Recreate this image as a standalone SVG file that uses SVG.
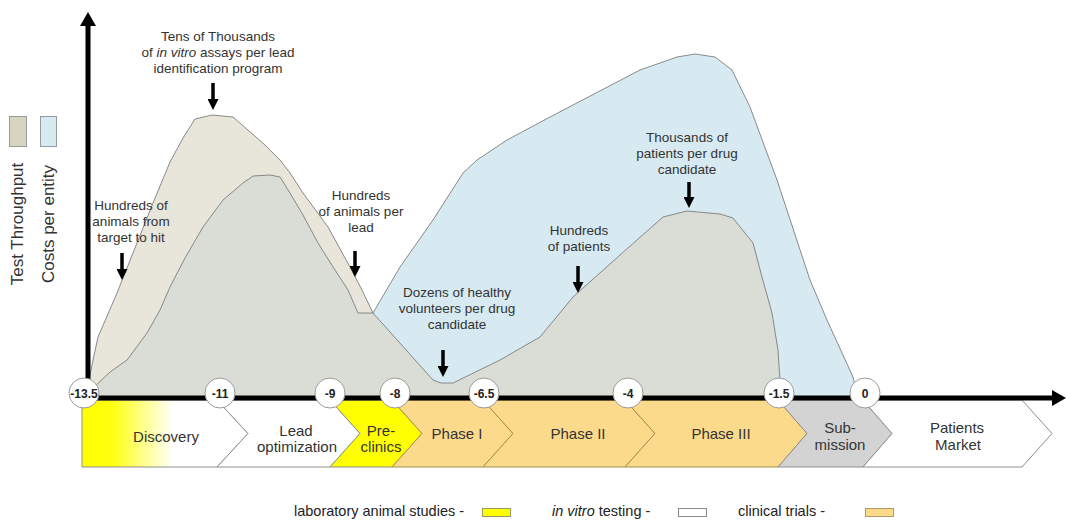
<svg xmlns="http://www.w3.org/2000/svg" width="1067" height="520" viewBox="0 0 1067 520">
<style>
.area{stroke:#7d7d7d;stroke-width:0.9;stroke-linejoin:round}
.beige{fill:#e8e6db}
.blue{fill:#d7eaf2}
.gray{fill:#d9ddd6}
.chev{stroke:#8f8f8f;stroke-width:1}
.phase{fill:#fcda8c;stroke:#a8904f}
.lbl{font-family:"Liberation Sans",Arial,sans-serif;font-size:15px;fill:#333;text-anchor:middle}
.ann{font-family:"Liberation Sans",Arial,sans-serif;font-size:13.5px;fill:#333;text-anchor:middle}
.num{font-family:"Liberation Sans",Arial,sans-serif;font-size:12px;font-weight:bold;fill:#222;text-anchor:middle}
.tick{fill:#fff;stroke:#9a9a9a;stroke-width:1}
.leg{font-family:"Liberation Sans",Arial,sans-serif;font-size:14.5px;fill:#222}
.side{font-family:"Liberation Sans",Arial,sans-serif;font-size:17px;fill:#333;text-anchor:middle}
.arr{stroke:#000;stroke-width:3.5;fill:none}
</style>
<defs>
<linearGradient id="disc" x1="82" y1="0" x2="248" y2="0" gradientUnits="userSpaceOnUse">
<stop offset="0" stop-color="#ffff00"/>
<stop offset="0.18" stop-color="#ffff10"/>
<stop offset="0.55" stop-color="#ffffff"/>
<stop offset="1" stop-color="#ffffff"/>
</linearGradient>
<marker id="ah" markerUnits="userSpaceOnUse" viewBox="0 0 11 11" markerWidth="11" markerHeight="11" refX="0" refY="5.5" orient="auto">
<path d="M0,0 L11,5.5 L0,11 Z" fill="#000"/>
</marker>
<marker id="axh" markerUnits="userSpaceOnUse" viewBox="0 0 14 16" markerWidth="14" markerHeight="16" refX="0" refY="8" orient="auto">
<path d="M0,0 L14,8 L0,16 Z" fill="#000"/>
</marker>
</defs>

<g id="side-legend">
<rect x="9.5" y="116.5" width="17" height="30" fill="#d8d4c2" stroke="#9a9a9a"/>
<rect x="40.5" y="116.5" width="16" height="30" fill="#d6eaf2" stroke="#9a9a9a"/>
<text class="side" transform="translate(23,224) rotate(-90)">Test Throughput</text>
<text class="side" transform="translate(54,224) rotate(-90)">Costs per entity</text>
</g>

<g id="curves">
<path id="throughput" class="area beige" d="M88,397 L88,385 L93,360 L98,337 L117,293 L137,243 L153,203 L170,162 L183,138 L195,119 L212,115 L233,117 L265,145 L280,160 L290,173 L303,193 L328,227 L350,267 L362,290 L373,313 L373,397 Z"/>
<path id="costs" class="area blue" d="M373,313 L400,267 L433,220 L463,173 L477,160 L507,140 L550,117 L640,70 L677,57 L695,54 L715,57 L732,70 L750,107 L767,153 L777,180 L810,280 L827,320 L853,377 L858,397 L373,397 Z"/>
<path id="overlap" class="area gray" d="M88,397 L92,389 L110,372 L127,360 L147,333 L160,310 L170,287 L185,258 L203,227 L223,200 L243,183 L253,176 L270,175 L280,177 L290,193 L303,215 L318,243 L335,270 L348,290 L358,313 L373,313 L433,380 L441,383 L453,383 L500,360 L540,337 L573,297 L620,255 L663,217 L687,211 L720,214 L733,218 L753,243 L762,277 L772,313 L778,350 L781,397 Z"/>
</g>

<g id="phases">
<g id="discovery"><path class="chev" fill="url(#disc)" d="M82,400 H217 L248,433.5 L217,467 H82 Z"/><text class="lbl" x="166" y="442">Discovery</text></g>
<g id="lead-optimization"><path class="chev" fill="#fff" d="M217,400 H330 L360,433.5 L330,467 H217 L248,433.5 Z"/><text class="lbl" x="296" y="436">Lead</text><text class="lbl" x="297" y="452">optimization</text></g>
<g id="pre-clinics"><path class="chev" fill="#ffff00" d="M330,400 H392 L422,433.5 L392,467 H330 L360,433.5 Z"/><text class="lbl" x="381" y="436">Pre-</text><text class="lbl" x="381" y="452">clinics</text></g>
<g id="phase-1"><path class="chev phase" d="M392,400 H483 L513,433.5 L483,467 H392 L422,433.5 Z"/><text class="lbl" x="457" y="439">Phase I</text></g>
<g id="phase-2"><path class="chev phase" d="M483,400 H625 L655,433.5 L625,467 H483 L513,433.5 Z"/><text class="lbl" x="578" y="439">Phase II</text></g>
<g id="phase-3"><path class="chev phase" d="M625,400 H778 L807,433.5 L778,467 H625 L655,433.5 Z"/><text class="lbl" x="721" y="439">Phase III</text></g>
<g id="submission"><path class="chev" fill="#d3d3d3" d="M778,400 H863 L892,433.5 L863,467 H778 L807,433.5 Z"/><text class="lbl" x="840" y="433">Sub-</text><text class="lbl" x="840" y="450">mission</text></g>
<g id="patients-market"><path class="chev" fill="#fff" d="M863,400 H1022 L1052,433.5 L1022,467 H863 L892,433.5 Z"/><text class="lbl" x="957" y="433">Patients</text><text class="lbl" x="958" y="450">Market</text></g>
</g>

<g id="connectors">
<line x1="88" y1="398" x2="88" y2="26" stroke="#000" stroke-width="5" marker-end="url(#axh)"/>
<line x1="86" y1="398" x2="1052" y2="398" stroke="#000" stroke-width="5" marker-end="url(#axh)"/>
<line class="arr" x1="213" y1="83" x2="213" y2="99" marker-end="url(#ah)"/>
<line class="arr" x1="122" y1="253" x2="122" y2="269" marker-end="url(#ah)"/>
<line class="arr" x1="355" y1="251" x2="355" y2="266" marker-end="url(#ah)"/>
<line class="arr" x1="443" y1="350" x2="443" y2="366" marker-end="url(#ah)"/>
<line class="arr" x1="578" y1="266" x2="578" y2="282" marker-end="url(#ah)"/>
<line class="arr" x1="689" y1="182" x2="689" y2="197" marker-end="url(#ah)"/>
</g>

<g id="ticks">
<g id="t-13-5"><circle class="tick" cx="84" cy="393" r="15"/><text class="num" x="84" y="397.5">-13.5</text></g>
<g id="t-11"><circle class="tick" cx="220" cy="393" r="15"/><text class="num" x="220" y="397.5">-11</text></g>
<g id="t-9"><circle class="tick" cx="330" cy="393" r="15"/><text class="num" x="330" y="397.5">-9</text></g>
<g id="t-8"><circle class="tick" cx="395" cy="393" r="15"/><text class="num" x="395" y="397.5">-8</text></g>
<g id="t-6-5"><circle class="tick" cx="484" cy="393" r="15"/><text class="num" x="484" y="397.5">-6.5</text></g>
<g id="t-4"><circle class="tick" cx="628" cy="393" r="15"/><text class="num" x="628" y="397.5">-4</text></g>
<g id="t-1-5"><circle class="tick" cx="779" cy="393" r="15"/><text class="num" x="779" y="397.5">-1.5</text></g>
<g id="t-0"><circle class="tick" cx="865" cy="393" r="15"/><text class="num" x="865" y="397.5">0</text></g>
</g>

<g id="annotations">
<g id="ann-lead-id"><text class="ann" x="218" y="41">Tens of Thousands</text><text class="ann" x="218" y="57">of <tspan font-style="italic">in vitro</tspan> assays per lead</text><text class="ann" x="218" y="73">identification program</text></g>
<g id="ann-target"><text class="ann" x="131" y="210">Hundreds of</text><text class="ann" x="131" y="226">animals from</text><text class="ann" x="131" y="242">target to hit</text></g>
<g id="ann-lead"><text class="ann" x="361" y="200">Hundreds</text><text class="ann" x="361" y="216">of animals per</text><text class="ann" x="361" y="232">lead</text></g>
<g id="ann-volunteers"><text class="ann" x="457" y="297">Dozens of healthy</text><text class="ann" x="457" y="313">volunteers per drug</text><text class="ann" x="457" y="329">candidate</text></g>
<g id="ann-patients"><text class="ann" x="579" y="235">Hundreds</text><text class="ann" x="579" y="251">of patients</text></g>
<g id="ann-thousands"><text class="ann" x="687" y="142">Thousands of</text><text class="ann" x="687" y="158">patients per drug</text><text class="ann" x="687" y="174">candidate</text></g>
</g>

<g id="bottom-legend">
<text class="leg" x="294" y="516">laboratory animal studies -</text>
<rect x="482.5" y="508.5" width="28" height="8" fill="#ffff00" stroke="#9a9a60"/>
<text class="leg" x="552" y="516"><tspan font-style="italic">in vitro</tspan> testing -</text>
<rect x="678.5" y="508.5" width="28" height="8" fill="#fff" stroke="#8a8a8a"/>
<text class="leg" x="738" y="516">clinical trials -</text>
<rect x="865.5" y="508.5" width="28" height="8" fill="#fcda8c" stroke="#b09a60"/>
</g>
</svg>
